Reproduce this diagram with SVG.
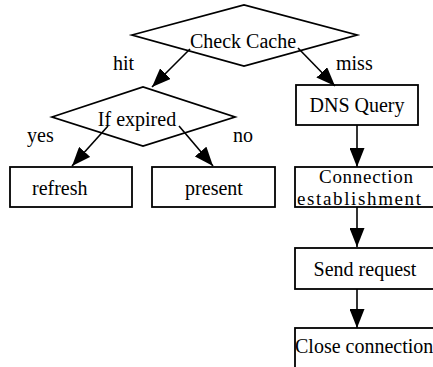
<svg xmlns="http://www.w3.org/2000/svg" width="433" height="367" viewBox="0 0 433 367">
<style>
  .shape { fill: none; stroke: #000; stroke-width: 1.8; }
  .lbl { font-family: "Liberation Serif", "Times New Roman", serif; font-size: 20px; fill: #000; }
  .sm { font-size: 19px; }
  .mid { text-anchor: middle; }
  .conn { stroke: #000; stroke-width: 1.6; fill: none; marker-end: url(#arrow); }
</style>
<defs>
  <marker id="arrow" markerUnits="userSpaceOnUse" markerWidth="19" markerHeight="15" refX="19" refY="7.5" orient="auto">
    <path d="M0,0 L19,7.5 L0,15 z" fill="#000"/>
  </marker>
</defs>
<rect width="433" height="367" fill="#fff"/>

<g id="connectors">
  <line class="conn" x1="190" y1="49" x2="152" y2="87"/>
  <line class="conn" x1="298" y1="48" x2="335" y2="86"/>
  <line class="conn" x1="108" y1="126" x2="72" y2="166"/>
  <line class="conn" x1="179" y1="126" x2="213" y2="166"/>
  <line class="conn" x1="357" y1="125" x2="357" y2="167"/>
  <line class="conn" x1="357" y1="207" x2="357" y2="247"/>
  <line class="conn" x1="357" y1="289" x2="357" y2="328"/>
  <text class="lbl" x="113" y="70">hit</text>
  <text class="lbl" x="336" y="70">miss</text>
  <text class="lbl" x="27" y="142">yes</text>
  <text class="lbl" x="233" y="142">no</text>
</g>

<g id="check-cache">
  <polygon class="shape" points="132,35 244,5 357,35 244,66"/>
  <text class="lbl mid" x="243" y="48">Check Cache</text>
</g>

<g id="if-expired">
  <polygon class="shape" points="52,117 143,87 235,117 143,146"/>
  <text class="lbl mid" x="137" y="126">If expired</text>
</g>

<g id="dns-query">
  <rect class="shape" x="296" y="85" width="122" height="40"/>
  <text class="lbl mid" x="357" y="112">DNS Query</text>
</g>

<g id="refresh">
  <rect class="shape" x="10" y="167" width="122" height="40"/>
  <text class="lbl" x="32" y="195">refresh</text>
</g>

<g id="present">
  <rect class="shape" x="152" y="167" width="123" height="40"/>
  <text class="lbl mid" x="214" y="195">present</text>
</g>

<g id="connection-establishment">
  <rect class="shape" x="295" y="167" width="145" height="40"/>
  <text class="lbl sm" x="319" y="183" textLength="94" lengthAdjust="spacing">Connection</text>
  <text class="lbl sm" x="297" y="205" textLength="124" lengthAdjust="spacing">establishment</text>
</g>

<g id="send-request">
  <rect class="shape" x="295" y="248" width="145" height="41"/>
  <text class="lbl mid" x="365" y="276">Send request</text>
</g>

<g id="close-connection">
  <rect class="shape" x="295" y="328" width="145" height="50"/>
  <text class="lbl" x="295" y="353">Close connection</text>
</g>
</svg>
